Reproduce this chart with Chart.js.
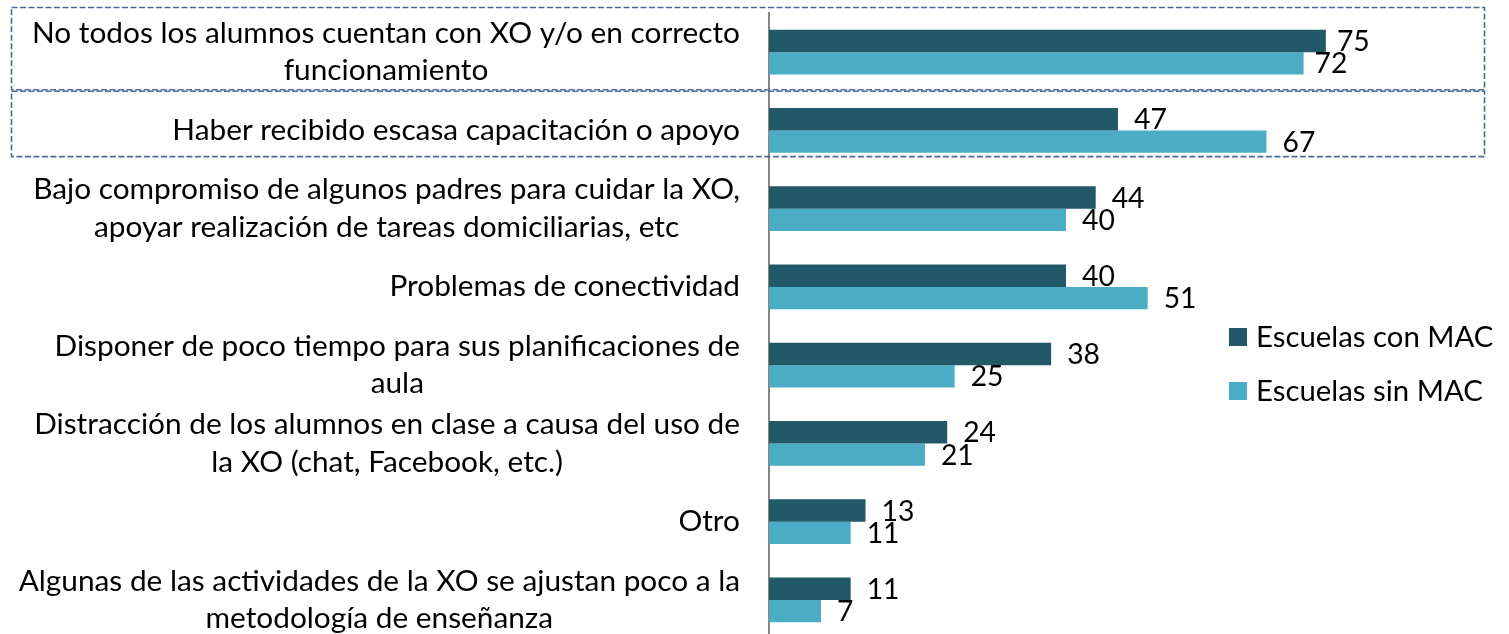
<!DOCTYPE html>
<html>
<head>
<meta charset="utf-8">
<script src="https://cdn.jsdelivr.net/npm/chart.js@4.4.1/dist/chart.umd.min.js"></script>
<style>
  html, body { margin: 0; padding: 0; background: #ffffff; overflow: hidden; }
  #wrap { width: 1509px; height: 640px; position: relative; }
</style>
</head>
<body>
<div id="wrap"><canvas id="c" width="1509" height="640"></canvas></div>
<script>
// ---- data ----
const categories = [
  ["No todos los alumnos cuentan con XO y/o en correcto", "funcionamiento"],
  ["Haber recibido escasa capacitación o apoyo"],
  ["Bajo compromiso de algunos padres para cuidar la XO,", "apoyar realización de tareas domiciliarias, etc"],
  ["Problemas de conectividad"],
  ["Disponer de poco tiempo para sus planificaciones de", "aula"],
  ["Distracción de los alumnos en clase a causa del uso de", "la XO (chat, Facebook, etc.)"],
  ["Otro"],
  ["Algunas de las actividades de la XO se ajustan poco a la", "metodología de enseñanza"]
];
const seriesNames = ["Escuelas con MAC", "Escuelas sin MAC"];
const conMAC = [75, 47, 44, 40, 38, 24, 13, 11];
const sinMAC = [72, 67, 40, 51, 25, 21, 11, 7];
const seriesColors = ["#215968", "#4BACC6"];

const FONT_FAMILY = "Lato, 'Open Sans', sans-serif";
const LABEL_RIGHT = 740;   // right edge of category labels
const AXIS_X = 769;        // left edge of plot area

// fit font size so the longest category line matches the reference width
function fitSize() {
  const cv = document.createElement('canvas').getContext('2d');
  cv.font = "30px " + FONT_FAMILY;
  const w = cv.measureText(categories[2][0]).width;
  return Math.round(30 * 707 / w * 10) / 10;
}
const FS = fitSize();

const categoryLabelsPlugin = {
  id: 'catLabels',
  afterDraw(chart) {
    const ctx = chart.ctx;
    const y = chart.scales.y;
    ctx.save();
    ctx.font = FS + "px " + FONT_FAMILY;
    ctx.fillStyle = "#000000";
    ctx.textBaseline = "middle";
    ctx.textAlign = "center";
    const lh = 37.5;
    categories.forEach((lines, i) => {
      const cy = y.getPixelForValue(i);
      let maxW = 0;
      lines.forEach(l => { maxW = Math.max(maxW, ctx.measureText(l).width); });
      const cx = LABEL_RIGHT - maxW / 2;
      const startY = cy - (lines.length - 1) * lh / 2;
      lines.forEach((l, k) => ctx.fillText(l, cx, startY + k * lh));
    });
    ctx.restore();
  }
};

const dataLabelsPlugin = {
  id: 'dataLabels',
  afterDatasetsDraw(chart) {
    const ctx = chart.ctx;
    ctx.save();
    ctx.font = (FS * 0.95) + "px " + FONT_FAMILY;
    ctx.fillStyle = "#000000";
    ctx.textBaseline = "middle";
    ctx.textAlign = "left";
    chart.data.datasets.forEach((ds, di) => {
      const meta = chart.getDatasetMeta(di);
      meta.data.forEach((el, i) => {
        const off = ds.data[i] >= 70 ? 11 : 16;
        ctx.fillText(String(ds.data[i]), el.x + off, el.y + 1);
      });
    });
    ctx.restore();
  }
};

const boxesPlugin = {
  id: 'boxes',
  afterDraw(chart) {
    const ctx = chart.ctx;
    const y = chart.scales.y;
    const step = y.getPixelForValue(1) - y.getPixelForValue(0);
    ctx.save();
    ctx.strokeStyle = "#4A6B9B";
    ctx.lineWidth = 1.6;
    ctx.setLineDash([6, 2.5]);
    const left = 11.5, right = 1484.5;
    const t0 = y.getPixelForValue(0) - step * 0.57;
    const b0 = y.getPixelForValue(0) + step * 0.48;
    const t1 = b0 + 1.5;
    const b1 = y.getPixelForValue(1) + step * 0.335;
    ctx.strokeRect(left, t0, right - left, b0 - t0);
    ctx.strokeRect(left, t1, right - left, b1 - t1);
    ctx.restore();
  }
};

const legendPlugin = {
  id: 'customLegend',
  afterDraw(chart) {
    const ctx = chart.ctx;
    ctx.save();
    ctx.font = (FS * 0.985) + "px " + FONT_FAMILY;
    ctx.textBaseline = "middle";
    ctx.textAlign = "left";
    const x0 = 1229, ys = [337, 391];
    seriesNames.forEach((n, i) => {
      ctx.fillStyle = seriesColors[i];
      ctx.fillRect(x0, ys[i] - 9, 18, 18);
      ctx.fillStyle = "#000000";
      ctx.fillText(n, x0 + 27, ys[i] + 1);
    });
    ctx.restore();
  }
};

new Chart(document.getElementById('c'), {
  type: 'bar',
  data: {
    labels: categories,
    datasets: [
      { label: seriesNames[0], data: conMAC, backgroundColor: seriesColors[0],
        borderWidth: 0, categoryPercentage: 0.575, barPercentage: 1.0 },
      { label: seriesNames[1], data: sinMAC, backgroundColor: seriesColors[1],
        borderWidth: 0, categoryPercentage: 0.575, barPercentage: 1.0 }
    ]
  },
  options: {
    indexAxis: 'y',
    responsive: false,
    animation: false,
    events: [],
    layout: { padding: { top: 13, right: 146, bottom: 1, left: 0 } },
    plugins: { legend: { display: false }, tooltip: { enabled: false } },
    scales: {
      x: {
        min: 0, max: 80,
        display: true,
        grid: { display: false },
        border: { display: false },
        ticks: { display: false },
        afterFit(s) { s.height = 0; }
      },
      y: {
        grid: { display: false, drawTicks: false },
        border: { display: true, color: "#868686", width: 2 },
        ticks: { display: false },
        afterFit(s) { s.width = AXIS_X; }
      }
    }
  },
  plugins: [categoryLabelsPlugin, dataLabelsPlugin, boxesPlugin, legendPlugin]
});
</script>
</body>
</html>
